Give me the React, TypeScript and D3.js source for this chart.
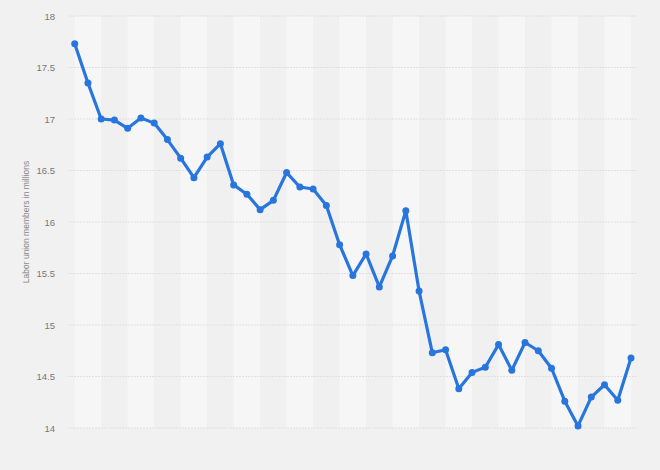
import * as d3 from "d3";
import React, { useEffect, useRef } from "react";

// years 1983–2025 (x labels are not drawn in the reference)
const YEARS = d3.range(1983, 2026).map(String);

const MEMBERS = [
  17.73, 17.35, 17.0, 16.99, 16.91, 17.01, 16.96, 16.8, 16.62, 16.43,
  16.63, 16.76, 16.36, 16.27, 16.12, 16.21, 16.48, 16.34, 16.32, 16.16,
  15.78, 15.48, 15.69, 15.37, 15.67, 16.11, 15.33, 14.73, 14.76, 14.38,
  14.54, 14.59, 14.81, 14.56, 14.83, 14.75, 14.58, 14.26, 14.02, 14.3,
  14.42, 14.27, 14.68,
];

const Y_TICKS = [14, 14.5, 15, 15.5, 16, 16.5, 17, 17.5, 18];
const Y_TITLE = "Labor union members in millions";

const W = 660;
const H = 470;

export default function App() {
  const svgRef = useRef<SVGSVGElement | null>(null);

  useEffect(() => {
    const svg = d3.select(svgRef.current);
    svg.selectAll("*").remove();

    const gridLeft = 68;
    const gridRight = 638;

    const x = d3.scalePoint<string>()
      .domain(YEARS)
      .range([74.7, 631]);

    const y = d3.scaleLinear()
      .domain([14, 18])
      .range([428, 16]);

    // page background
    svg.append("rect")
      .attr("width", W)
      .attr("height", H)
      .attr("fill", "#f1f1f1");

    // alternating stripes, two steps wide
    const step = x.step();
    const stripes = d3.range(0, YEARS.length - 1, 2);
    svg.append("g")
      .selectAll("rect")
      .data(stripes)
      .join("rect")
      .attr("x", i => x(YEARS[i])!)
      .attr("y", y(18))
      .attr("width", step * 2)
      .attr("height", y(14) - y(18))
      .attr("fill", (_, k) => (k % 2 === 0 ? "#f6f6f6" : "#f0f0f0"));

    // grid lines
    svg.append("g")
      .selectAll("line")
      .data(Y_TICKS)
      .join("line")
      .attr("x1", gridLeft)
      .attr("x2", gridRight)
      .attr("y1", d => y(d))
      .attr("y2", d => y(d))
      .attr("stroke", "#e0e0e0")
      .attr("stroke-width", 1)
      .attr("stroke-dasharray", "2,1");

    // tick labels
    svg.append("g")
      .selectAll("text")
      .data(Y_TICKS)
      .join("text")
      .attr("x", 55)
      .attr("y", d => y(d))
      .attr("text-anchor", "end")
      .attr("dominant-baseline", "central")
      .attr("font-family", "'Liberation Sans', Arial, sans-serif")
      .attr("font-size", 9.5)
      .attr("fill", "#777")
      .text(d => String(d));

    // axis title
    svg.append("text")
      .attr("transform", `translate(26,222) rotate(-90)`)
      .attr("text-anchor", "middle")
      .attr("dominant-baseline", "central")
      .attr("font-family", "'Liberation Sans', Arial, sans-serif")
      .attr("font-size", 8.5)
      .attr("fill", "#888")
      .text(Y_TITLE);

    const pts = YEARS.map((yr, i) => ({ yr, v: MEMBERS[i] }));

    const line = d3.line<{ yr: string; v: number }>()
      .x(d => x(d.yr)!)
      .y(d => y(d.v));

    svg.append("path")
      .datum(pts)
      .attr("d", line)
      .attr("fill", "none")
      .attr("stroke", "#2876dd")
      .attr("stroke-width", 3.2)
      .attr("stroke-linejoin", "round");

    svg.append("g")
      .selectAll("circle")
      .data(pts)
      .join("circle")
      .attr("cx", d => x(d.yr)!)
      .attr("cy", d => y(d.v))
      .attr("r", 3.5)
      .attr("fill", "#2876dd");
  }, []);

  return (
    <div style={{ position: "fixed", left: 0, top: 0, width: W, height: H }}>
      <svg ref={svgRef} width={W} height={H} style={{ display: "block" }} />
    </div>
  );
}
